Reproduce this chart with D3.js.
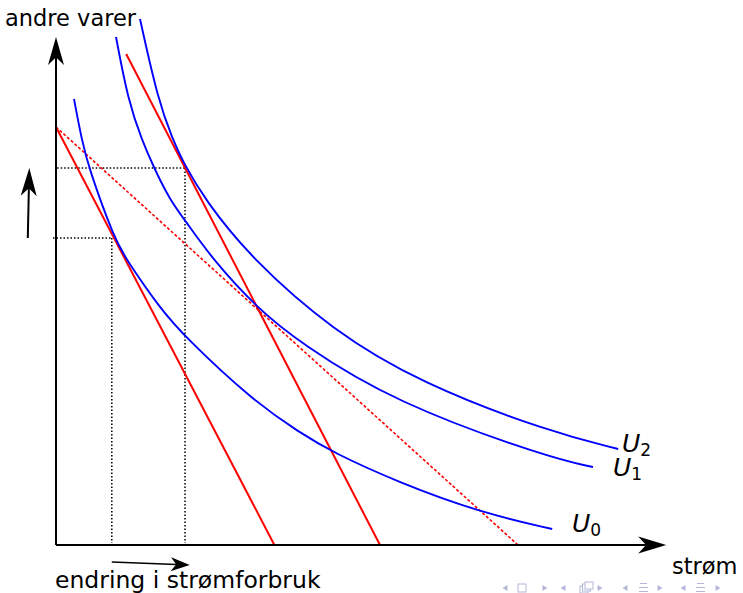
<!DOCTYPE html>
<html>
<head>
    <meta charset="UTF-8" />
    <title>Strøm og andre varer</title>
    <script src="https://d3js.org/d3.v7.min.js"></script>
    <style type="text/css">
        body {
            margin: 0;
            background-color: #fff;
        }
        svg text {
            font-family: 'DejaVu Sans', sans-serif;
            fill: #000;
        }
    </style>
</head>
<body>
<div id="chart"></div>
<script>
    // indifference curves, points (x = strøm, y = andre varer)
    var u0x = [3, 4.3, 5.4, 9.8, 11.8, 17.3, 21.5, 32.7, 40.7, 46, 57.3, 71, 82.7];
    var u0y = [89.2, 81, 75.6, 61, 57, 47.4, 41.6, 29, 22.4, 18.6, 12.4, 6.4, 3.2];

    var u1x = [10, 12, 14.3, 16.5, 19, 21.7, 26.2, 33.5, 40.7, 56.2, 82.3, 89.5];
    var u1y = [101.6, 89, 81, 75, 69, 64.6, 57, 47.4, 40.4, 28.6, 17.4, 15.6];

    var u2x = [14, 17, 19.5, 21, 24.8, 32.8, 46, 60.7, 82.3, 93.7];
    var u2y = [105.2, 89, 81, 77, 69, 57, 43, 32.4, 22.6, 19.2];

    var curveNames = ["0", "1", "2"];

    // budget lines: start and end points
    var budgetX = [[0, 36.4], [11.7, 54], [0, 77]];
    var budgetY = [[83.6, 0], [98.2, 0], [83.6, 0]];
    var budgetDotted = [false, false, true];

    // the two chosen bundles
    var guideX = [9.3, 21.5];
    var guideY = [61.4, 75.4];

    var w = 743, h = 593;

    var x = d3.scaleLinear().domain([0, 100]).range([56, 656]);
    var y = d3.scaleLinear().domain([0, 100]).range([545, 45]);

    var svg = d3.select("#chart")
        .append("svg")
        .attr("width", w)
        .attr("height", h);

    // arrow head, tip at (tx,ty), pointing along angle a
    var arrowHead = function (tx, ty, a, len, half) {
        var pts = [[0, 0], [-len, -half], [-0.72 * len, 0], [-len, half]];
        var c = Math.cos(a), s = Math.sin(a);
        return "M" + pts.map(function (p) {
            return [tx + p[0] * c - p[1] * s, ty + p[0] * s + p[1] * c].join(",");
        }).join("L") + "Z";
    };

    var arrow = function (x1, y1, x2, y2, len, half, sw) {
        var a = Math.atan2(y2 - y1, x2 - x1);
        svg.append("line")
            .attr("x1", x1).attr("y1", y1)
            .attr("x2", x2 - Math.cos(a) * len * 0.7)
            .attr("y2", y2 - Math.sin(a) * len * 0.7)
            .attr("stroke", "#000")
            .attr("stroke-width", sw);
        svg.append("path")
            .attr("d", arrowHead(x2, y2, a, len, half))
            .attr("fill", "#000");
    };

    //dotted guides
    guideX.forEach(function (gx, i) {
        svg.append("line")
            .attr("x1", x(gx)).attr("y1", y(guideY[i]))
            .attr("x2", x(gx)).attr("y2", y(0.4))
            .attr("stroke", "#000")
            .attr("stroke-width", 1.5)
            .attr("stroke-dasharray", "1.5,2");
        svg.append("line")
            .attr("x1", x(i === 0 ? -0.5 : 0.2)).attr("y1", y(guideY[i]))
            .attr("x2", x(gx)).attr("y2", y(guideY[i]))
            .attr("stroke", "#000")
            .attr("stroke-width", 1.5)
            .attr("stroke-dasharray", "1.5,2");
    });

    //budget lines
    budgetX.forEach(function (bx, i) {
        svg.append("line")
            .attr("x1", x(bx[0])).attr("y1", y(budgetY[i][0]))
            .attr("x2", x(bx[1])).attr("y2", y(budgetY[i][1]))
            .attr("stroke", "#ff0000")
            .attr("stroke-width", budgetDotted[i] ? 1.6 : 2)
            .attr("stroke-dasharray", budgetDotted[i] ? "3,2" : null);
    });

    //indifference curves
    var line = d3.line()
        .x(function (d) { return x(d[0]); })
        .y(function (d) { return y(d[1]); })
        .curve(d3.curveBasis);

    var curves = [d3.zip(u0x, u0y), d3.zip(u1x, u1y), d3.zip(u2x, u2y)];

    svg.selectAll(".ucurve")
        .data(curves)
        .enter().append("path")
        .attr("class", "ucurve")
        .attr("d", line)
        .attr("fill", "none")
        .attr("stroke", "#0000ff")
        .attr("stroke-width", 1.9);

    // curve labels U_0, U_1, U_2
    var labelPos = [[572, 532], [613, 476], [622, 452]];
    curveNames.forEach(function (n, i) {
        var t = svg.append("text")
            .attr("x", labelPos[i][0])
            .attr("y", labelPos[i][1])
            .style("font-size", "25px");
        t.append("tspan")
            .style("font-style", "italic")
            .text("U");
        t.append("tspan")
            .attr("dy", 4)
            .style("font-size", "17px")
            .text(n);
    });

    //axes
    arrow(x(0), y(0), x(0), y(101.6), 28, 8, 2);
    arrow(x(0), y(0), x(101.7), y(0), 28, 8.5, 2);

    // shift arrows
    arrow(x(-4.7), y(guideY[0]), x(-4.45), y(guideY[1]), 28, 8, 2);
    arrow(x(guideX[0]), y(-3.4), x(22.3), y(-4), 19, 7, 1.6);

    //texts
    svg.append("text").attr("x", 5).attr("y", 26)
        .style("font-size", "22.5px").text("andre varer");
    svg.append("text").attr("x", 672).attr("y", 574)
        .style("font-size", "22.5px").text("strøm");
    svg.append("text").attr("x", 55).attr("y", 588)
        .style("font-size", "23.5px").text("endring i strømforbruk");

    // beamer navigation symbols
    var navColor = "#b3b8d8";
    var nav = svg.append("g").attr("fill", navColor).attr("stroke", navColor);
    var navTri = [[505, -1], [545, 1], [563, -1], [600, 1], [625, -1], [660, 1], [683, -1], [718, 1]];
    navTri.forEach(function (p) {
        nav.append("path")
            .attr("d", "M" + (p[0] + 2.5 * p[1]) + ",588L" + (p[0] - 2.5 * p[1]) + ",585L" + (p[0] - 2.5 * p[1]) + ",591Z")
            .attr("stroke", "none");
    });
    nav.append("rect").attr("x", 518).attr("y", 584).attr("width", 8).attr("height", 8)
        .attr("fill", "none").attr("stroke-width", 1);
    [[580, 586], [582.5, 584], [585, 582]].forEach(function (p) {
        nav.append("rect").attr("x", p[0]).attr("y", p[1]).attr("width", 8).attr("height", 7)
            .attr("fill", "#fff").attr("stroke-width", 1);
    });
    [639, 696].forEach(function (cx) {
        [583.5, 587.5, 591.5].forEach(function (ly, k) {
            nav.append("line").attr("x1", cx + (k === 0 ? 1 : 0)).attr("x2", cx + 9 - (k === 0 ? 1 : 0))
                .attr("y1", ly).attr("y2", ly).attr("stroke-width", 1);
        });
    });
</script>
</body>
</html>
